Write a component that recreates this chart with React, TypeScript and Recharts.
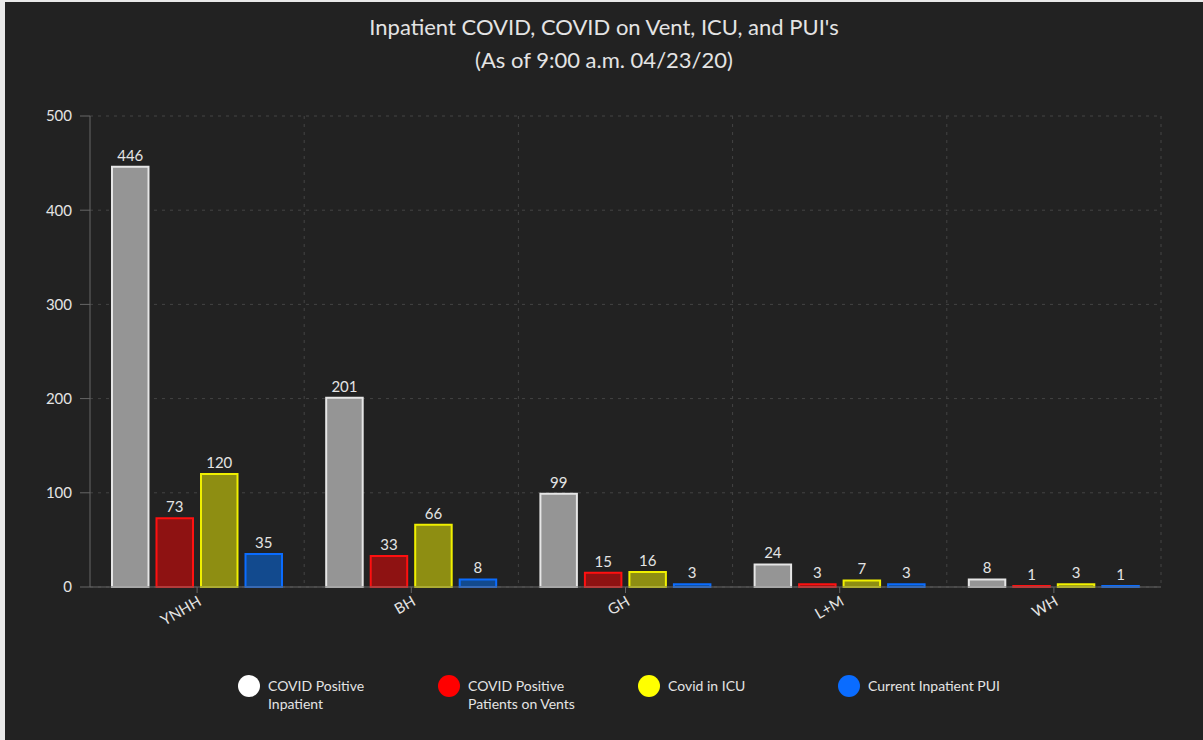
import React from "react";
import { BarChart, Bar, XAxis, YAxis, CartesianGrid, LabelList, Legend } from "recharts";

const hospitals = ["YNHH", "BH", "GH", "L+M", "WH"];
const positiveInpatient = [446, 201, 99, 24, 8];
const onVents = [73, 33, 15, 3, 1];
const inIcu = [120, 66, 16, 7, 3];
const inpatientPui = [35, 8, 3, 3, 1];
const yTicks = [0, 100, 200, 300, 400, 500];

const series = [
  { key: "positive", label: "COVID Positive\nInpatient", values: positiveInpatient, fill: "#959595", stroke: "#e6e6e6", dot: "#ffffff" },
  { key: "vents", label: "COVID Positive\nPatients on Vents", values: onVents, fill: "#8e1212", stroke: "#ff1010", dot: "#ff0000" },
  { key: "icu", label: "Covid in ICU", values: inIcu, fill: "#8e8e12", stroke: "#f0f000", dot: "#ffff00" },
  { key: "pui", label: "Current Inpatient PUI", values: inpatientPui, fill: "#124a8e", stroke: "#0a6cff", dot: "#0a6cff" },
];

const data = hospitals.map((name, i) => {
  const row: Record<string, string | number> = { name };
  series.forEach((s) => (row[s.key] = s.values[i]));
  return row;
});

const FONT = "Lato, 'Open Sans', sans-serif";
const TEXT = "#e4e4e4";

function LegendBox() {
  return (
    <div style={{ display: "flex", height: 48, paddingLeft: 233, fontFamily: FONT, fontSize: 14, color: TEXT }}>
      {series.map((s) => (
        <div key={s.key} style={{ width: 200, display: "flex", alignItems: "flex-start" }}>
          <span style={{ width: 22, height: 22, borderRadius: 11, background: s.dot, flexShrink: 0 }} />
          <span style={{ marginLeft: 8, whiteSpace: "pre-line", lineHeight: "18px", marginTop: 2 }}>{s.label}</span>
        </div>
      ))}
    </div>
  );
}

export default function App() {
  return (
    <div style={{ position: "fixed", left: 0, top: 0, width: 1203, height: 740, background: "#e9e9e9", overflow: "hidden" }}>
      <div style={{ position: "absolute", left: 5, top: 2, width: 1198, height: 738, background: "#222222" }}>
        <div style={{ position: "absolute", top: 8, width: "100%", textAlign: "center", fontFamily: FONT, fontSize: 22, color: TEXT, lineHeight: "33px" }}>
          <div>Inpatient COVID, COVID on Vent, ICU, and PUI's</div>
          <div>(As of 9:00 a.m. 04/23/20)</div>
        </div>
        <BarChart
          width={1198}
          height={738}
          data={data}
          margin={{ top: 114, right: 42, bottom: 57, left: 0 }}
          barSize={36.5}
          barGap={8}
        >
          <CartesianGrid
            stroke="#444"
            strokeDasharray="3 5"
            verticalCoordinatesGenerator={({ offset }: any) =>
              hospitals.map((_, i) => offset.left + ((i + 1) * offset.width) / hospitals.length)
            }
          />
          <XAxis
            dataKey="name"
            stroke="#666"
            tickSize={6}
            height={48}
            interval={0}
            angle={-30}
            textAnchor="end"
            tick={{ fill: TEXT, fontSize: 15, fontFamily: FONT }}
          />
          <YAxis
            width={85}
            domain={[0, 500]}
            ticks={yTicks}
            stroke="#666"
            tickSize={10}
            tickMargin={8}
            tick={{ fill: TEXT, fontSize: 15, fontFamily: FONT }}
          />
          <Legend verticalAlign="bottom" content={<LegendBox />} wrapperStyle={{ top: 673, left: 0, bottom: "auto", width: 1198 }} />
          {series.map((s) => (
            <Bar key={s.key} dataKey={s.key} fill={s.fill} stroke={s.stroke} strokeWidth={2} isAnimationActive={false}>
              <LabelList dataKey={s.key} position="top" offset={6} fill={TEXT} fontSize={15} fontFamily={FONT} />
            </Bar>
          ))}
        </BarChart>
      </div>
    </div>
  );
}
